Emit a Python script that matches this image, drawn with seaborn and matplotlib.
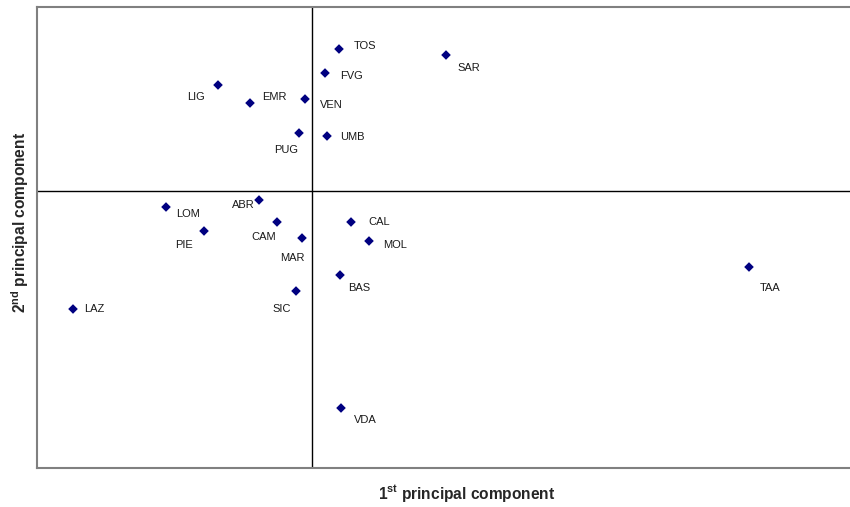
import matplotlib
matplotlib.use("Agg")
import matplotlib.pyplot as plt
import seaborn as sns
import pandas as pd

# regioni e punteggi sulle prime due componenti principali
regions = ["TOS", "SAR", "FVG", "LIG", "EMR", "VEN", "PUG", "UMB", "ABR", "LOM",
           "CAM", "PIE", "MAR", "CAL", "MOL", "BAS", "SIC", "LAZ", "TAA", "VDA"]
pc1 = [0.27, 1.34, 0.13, -0.94, -0.62, -0.07, -0.13, 0.15, -0.53, -1.46,
       -0.35, -1.08, -0.10, 0.39, 0.57, 0.28, -0.16, -2.39, 4.37, 0.29]
pc2 = [1.42, 1.36, 1.18, 1.06, 0.88, 0.92, 0.58, 0.55, -0.09, -0.16,
       -0.31, -0.40, -0.47, -0.31, -0.50, -0.84, -1.00, -1.18, -0.76, -2.17]

df = pd.DataFrame({"region": regions, "pc1": pc1, "pc2": pc2})

# spostamento delle etichette (pixel) e allineamento
label_pos = {
    "TOS": (15, 3, "left"), "SAR": (11, -13, "left"), "FVG": (15, -3, "left"),
    "LIG": (-13, -12, "right"), "EMR": (12, 6, "left"), "VEN": (15, -6, "left"),
    "PUG": (-1, -17, "right"), "UMB": (13, -1, "left"), "ABR": (-4, -5, "right"),
    "LOM": (10, -7, "left"), "CAM": (-1, -15, "right"), "PIE": (-11, -14, "right"),
    "MAR": (3, -20, "right"), "CAL": (17, 0, "left"), "MOL": (14, -4, "left"),
    "BAS": (8, -13, "left"), "SIC": (-5, -18, "right"), "LAZ": (11, 0, "left"),
    "TAA": (11, -21, "left"), "VDA": (13, -12, "left"),
}

sns.set_style("white")
plt.rcParams["font.family"] = ["Liberation Sans", "DejaVu Sans"]
plt.rcParams["mathtext.fontset"] = "custom"
plt.rcParams["mathtext.rm"] = "Liberation Sans:bold"
plt.rcParams["mathtext.bf"] = "Liberation Sans:bold"

fig = plt.figure(figsize=(8.5, 5.07), dpi=100)
ax = fig.add_axes([37 / 850, 1 - 468 / 507, 1 - 37 / 850, 461 / 507])

sns.scatterplot(data=df, x="pc1", y="pc2", marker="D", color="#000080",
                s=24, edgecolor="none", ax=ax, zorder=3)

ax.axhline(0, color="black", lw=1, zorder=1)
ax.axvline(0, color="black", lw=1, zorder=1)

for r, x, y in zip(regions, pc1, pc2):
    dx, dy, ha = label_pos[r]
    ax.annotate(r, (x, y), xytext=(dx, dy), textcoords="offset pixels",
                ha=ha, va="center", fontsize=8, color="#1a1a1a")

ax.set_xlim(-2.75, 5.38)
ax.set_ylim(-2.77, 1.84)
ax.set_xticks([])
ax.set_yticks([])

for side in ["left", "top", "bottom"]:
    ax.spines[side].set_color("#808080")
    ax.spines[side].set_linewidth(1.5)
ax.spines["right"].set_visible(False)

ax.set_xlabel(r"1$^{\rm st}$ principal component", fontsize=11.2, fontweight="bold")
ax.set_ylabel(r"2$^{\rm nd}$ principal component", fontsize=11.2, fontweight="bold")
ax.xaxis.set_label_coords((467 - 37) / 813, -(494 - 468) / 461, transform=ax.transAxes)
ax.yaxis.set_label_coords(-(37 - 20) / 813, (468 - 222) / 461, transform=ax.transAxes)
ax.xaxis.label.set_va("center")
ax.yaxis.label.set_va("center")

fig.savefig("out.png", dpi=100)
